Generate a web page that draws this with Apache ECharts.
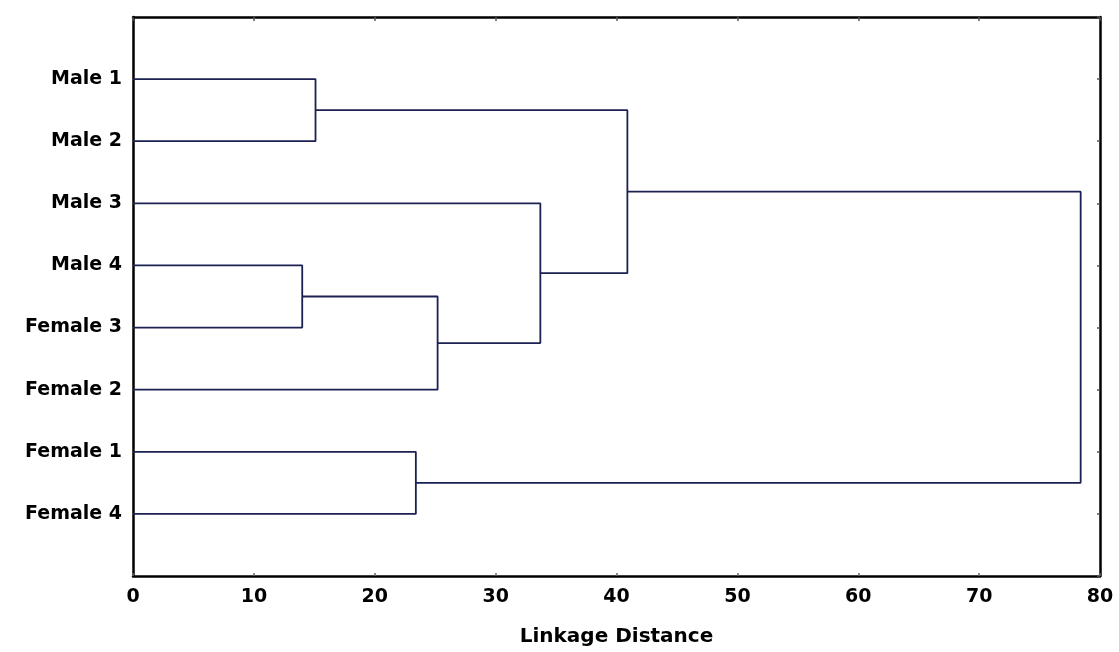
<!DOCTYPE html>
<html><head><meta charset="utf-8">
<script src="https://cdn.jsdelivr.net/npm/echarts@6/dist/echarts.min.js"></script>
<style>html,body{margin:0;padding:0;background:#fff}#c{width:1119px;height:652px}</style>
</head><body><div id="c"></div>
<script>
// Leaves in display order (top to bottom)
var leaves = ['Male 1','Male 2','Male 3','Male 4','Female 3','Female 2','Female 1','Female 4'];
// Merges: [left node, right node, linkage distance]; nodes are leaf names or 'C#' cluster ids (index into merges)
var merges = [
  ['Male 1','Male 2',15.1],     // C0
  ['Male 4','Female 3',14.0],   // C1
  ['C1','Female 2',25.2],       // C2
  ['Male 3','C2',33.7],         // C3
  ['C0','C3',40.9],             // C4
  ['Female 1','Female 4',23.4], // C5
  ['C4','C5',78.4]              // C6
];
var xTicks = [0,10,20,30,40,50,60,70,80];
var xTitle = 'Linkage Distance';

var pos = {};
leaves.forEach(function(n,i){ pos[n] = {x:0, y:i+1}; });
var series = [];
merges.forEach(function(m,i){
  var a = pos[m[0]], b = pos[m[1]], h = m[2];
  series.push({
    type:'line', symbol:'none', silent:true, animation:false,
    lineStyle:{color:'#1b2150', width:1.8},
    data:[[a.x,a.y],[h,a.y],[h,b.y],[b.x,b.y]]
  });
  pos['C'+i] = {x:h, y:(a.y+b.y)/2};
});

var chart = echarts.init(document.getElementById('c'));
var FONT = 'DejaVu Sans, Verdana, sans-serif';
var lblFont = {color:'#000', fontFamily:FONT, fontWeight:'bold', fontSize:19};
chart.setOption({
  backgroundColor:'#fff',
  grid:{left:133, right:19, top:17, bottom:76},
  xAxis:[{
    type:'value', min:0, max:80, interval:10, position:'bottom',
    name:xTitle, nameLocation:'middle', nameGap:51,
    nameTextStyle:{color:'#000', fontFamily:FONT, fontWeight:'bold', fontSize:20},
    axisLine:{show:true, onZero:false, lineStyle:{color:'#000', width:2.5}},
    axisTick:{show:true, inside:true, length:3, lineStyle:{color:'#666', width:1.5}},
    axisLabel:Object.assign({margin:12, formatter:function(v){return xTicks.indexOf(v)>=0? String(v):'';}}, lblFont),
    splitLine:{show:false}
  },{
    type:'value', min:0, max:80, interval:10, position:'top',
    axisLine:{show:true, onZero:false, lineStyle:{color:'#000', width:2.5}},
    axisTick:{show:true, inside:true, length:4, lineStyle:{color:'#555', width:1.5}},
    axisLabel:{show:false}, splitLine:{show:false}
  }],
  yAxis:[{
    type:'value', inverse:true, min:0, max:9, interval:1, position:'left',
    axisLine:{show:true, onZero:false, lineStyle:{color:'#000', width:2.5}},
    axisTick:{show:false},
    axisLabel:Object.assign({margin:11, formatter:function(v){return leaves[v-1]||'';}}, lblFont),
    splitLine:{show:false}
  },{
    type:'value', inverse:true, min:0, max:9, interval:1, position:'right',
    axisLine:{show:true, onZero:false, lineStyle:{color:'#000', width:2.5}},
    axisTick:{show:true, inside:true, length:3, lineStyle:{color:'#555', width:1.5}},
    axisLabel:{show:false}, splitLine:{show:false}
  }],
  series:series
});
</script></body></html>
